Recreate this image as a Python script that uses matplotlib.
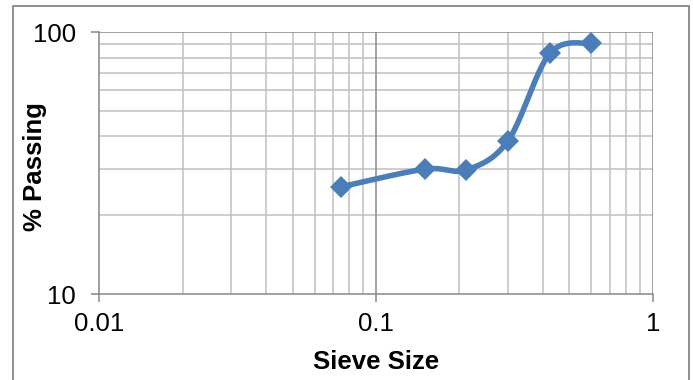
import numpy as np
import matplotlib
matplotlib.use("Agg")
import matplotlib.pyplot as plt
from matplotlib.patches import Rectangle
from matplotlib.ticker import FixedLocator, NullFormatter, FixedFormatter

plt.rcParams["font.family"] = ["Liberation Sans", "DejaVu Sans"]

# Grain-size distribution
sieve_size = [0.075, 0.15, 0.212, 0.3, 0.425, 0.6]
percent_passing = [25.7, 30.0, 29.8, 38.5, 83.1, 90.8]

x_ticks = [0.01, 0.1, 1]
x_tick_labels = ["0.01", "0.1", "1"]
y_ticks = [10, 100]
y_tick_labels = ["10", "100"]

LINE_BLUE = "#4A7EBB"
MAJOR_GRID = "#878787"
MINOR_GRID = "#C0C0C0"


def smooth_curve(xs, ys, n=40):
    """Catmull-Rom style Bezier smoothing carried out in log-log space."""
    lx = np.log10(xs)
    ly = np.log10(ys)
    pts = np.column_stack([lx, ly])
    out = []
    m = len(pts)
    for i in range(m - 1):
        p0 = pts[i - 1] if i > 0 else pts[i]
        p1 = pts[i]
        p2 = pts[i + 1]
        p3 = pts[i + 2] if i + 2 < m else pts[i + 1]
        c1 = p1 + (p2 - p0) / 6.0
        c2 = p2 - (p3 - p1) / 6.0
        t = np.linspace(0, 1, n)[:, None]
        seg = ((1 - t) ** 3) * p1 + 3 * ((1 - t) ** 2) * t * c1 \
            + 3 * (1 - t) * t ** 2 * c2 + t ** 3 * p2
        out.append(seg if i == 0 else seg[1:])
    curve = np.vstack(out)
    return 10 ** curve[:, 0], 10 ** curve[:, 1]


fig = plt.figure(figsize=(6.93, 3.80), dpi=100)
ax = fig.add_axes([99.3 / 693, 1 - 294 / 380, (652.7 - 99.3) / 693, (294 - 32.3) / 380])

ax.set_xscale("log")
ax.set_yscale("log")
ax.set_xlim(0.01, 1)
ax.set_ylim(10, 100)

# grid lines
minor_x = [k * 10.0 ** e for e in (-2, -1) for k in range(2, 10)]
minor_y = [k * 10.0 for k in range(2, 10)]
for v in minor_x:
    ax.axvline(v, color=MINOR_GRID, lw=1.1, zorder=1)
for v in minor_y:
    ax.axhline(v, color=MINOR_GRID, lw=1.1, zorder=1)
ax.axvline(0.1, color=MAJOR_GRID, lw=1.1, zorder=1.5)
ax.axhline(100, color=MAJOR_GRID, lw=1.1, zorder=1.5)
ax.axvline(1, color=MAJOR_GRID, lw=1.1, zorder=1.5)

cx, cy = smooth_curve(sieve_size, percent_passing)
ax.plot(cx, cy, color=LINE_BLUE, lw=4.0, solid_capstyle="round", zorder=3)
ax.plot(sieve_size, percent_passing, linestyle="none", marker="D",
        markersize=11, color=LINE_BLUE, markeredgewidth=0, zorder=4)

for side in ("top", "right"):
    ax.spines[side].set_visible(False)
for side in ("left", "bottom"):
    ax.spines[side].set_color(MAJOR_GRID)
    ax.spines[side].set_linewidth(1.1)

ax.xaxis.set_major_locator(FixedLocator(x_ticks))
ax.xaxis.set_major_formatter(FixedFormatter(x_tick_labels))
ax.yaxis.set_major_locator(FixedLocator(y_ticks))
ax.yaxis.set_major_formatter(FixedFormatter(y_tick_labels))
ax.xaxis.set_minor_locator(FixedLocator([]))
ax.yaxis.set_minor_locator(FixedLocator([]))
ax.xaxis.set_minor_formatter(NullFormatter())
ax.yaxis.set_minor_formatter(NullFormatter())
ax.tick_params(axis="both", which="major", direction="out", length=5.8,
               width=1.1, color=MAJOR_GRID, labelsize=18.5, labelcolor="black")
ax.tick_params(axis="y", pad=11)
ax.tick_params(axis="x", pad=7)

ax.set_xlabel("Sieve Size", fontsize=18.5, fontweight="bold", labelpad=10.5)
ax.set_ylabel("% Passing", fontsize=18.5, fontweight="bold")
ax.yaxis.set_label_coords((47 - 99.3) / 553.4, 0.487)

# chart-area frame
fig.patches.append(Rectangle((13.3 / 693, -0.05), (689 - 13.3) / 693, 1.05 - 5.7 / 380,
                             transform=fig.transFigure, fill=False,
                             edgecolor=MAJOR_GRID, lw=1.3))

fig.savefig("out.png", dpi=100)
